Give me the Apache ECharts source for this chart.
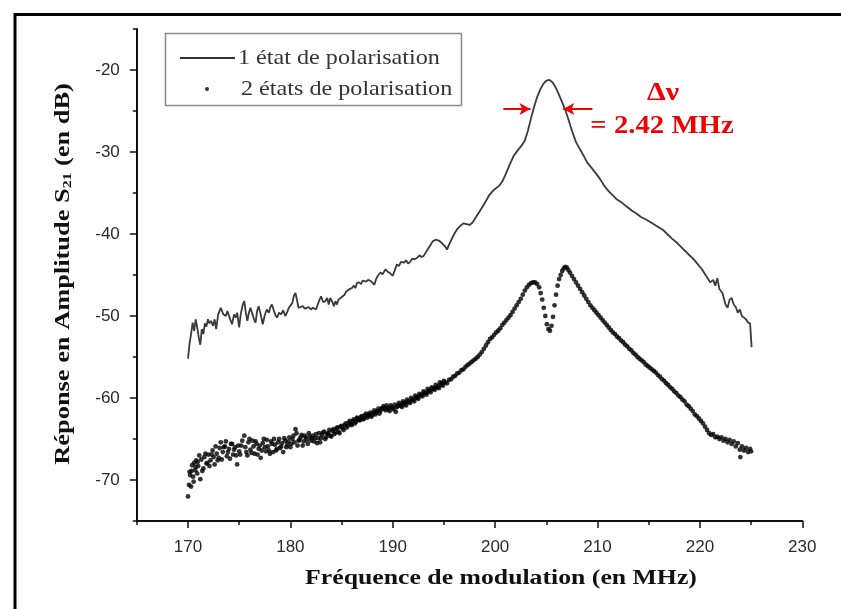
<!DOCTYPE html>
<html>
<head>
<meta charset="utf-8">
<script src="https://cdn.jsdelivr.net/npm/echarts@6/dist/echarts.min.js"></script>
<style>
html,body{margin:0;padding:0;background:#fff;}
#chart{width:841px;height:609px;}
</style>
</head>
<body>
<div id="chart"></div>
<script>
// ---- Data ----
const seriesNames = ['1 état de polarisation', '2 états de polarisation'];

// Series 1 (solid line): frequency (MHz) and S21 (dB)
const freq1 = [170.0,170.15,170.3,170.45,170.6,170.75,170.9,171.05,171.2,171.35,171.5,171.65,171.8,171.95,172.1,172.25,172.45,172.6,172.75,172.95,
173.2,173.45,173.7,173.85,174.0,174.15,174.3,174.5,174.65,174.8,175.0,175.15,175.35,175.5,175.65,175.8,175.95,176.1,176.3,176.45,
176.6,176.75,176.9,177.1,177.3,177.5,177.7,177.9,178.05,178.2,178.4,178.55,178.7,178.9,179.1,179.3,179.5,179.7,179.85,180.0,
180.2,180.35,180.5,180.65,180.8,181.0,181.2,181.4,181.6,181.8,182.0,182.2,182.5,182.7,182.85,183.0,183.2,183.4,183.6,183.75,
183.9,184.1,184.25,184.4,184.55,184.7,184.9,185.1,185.3,185.45,185.6,185.8,186.0,186.2,186.35,186.5,186.7,186.9,187.05,187.2,
187.4,187.6,187.8,188.0,188.2,188.4,188.6,188.8,189.0,189.3,189.5,189.75,190.0,190.2,190.4,190.6,190.8,191.1,191.3,191.5,
191.7,191.9,192.1,192.4,192.6,192.8,193.0,193.2,193.5,193.7,193.9,194.2,194.5,194.8,195.1,195.3,195.5,195.8,196.0,196.3,
196.6,196.9,197.2,197.5,197.8,198.1,198.4,198.6,199.0,199.4,199.9,200.4,200.7,201.0,201.4,201.8,202.2,202.6,202.9,203.2,
203.5,203.8,204.1,204.4,204.7,205.0,205.3,205.6,205.9,206.2,206.5,206.8,207.1,207.5,207.9,208.3,208.7,209.0,209.4,209.9,
210.3,210.7,211.1,211.5,211.9,212.4,212.9,213.4,213.8,214.2,214.7,215.1,215.5,216.0,216.4,216.8,217.3,217.7,218.1,218.5,
218.9,219.4,219.8,220.2,220.5,220.8,221.0,221.3,221.5,221.7,221.9,222.2,222.5,222.7,222.9,223.1,223.3,223.5,223.7,223.9,
224.1,224.3,224.5,224.7,224.9,225.05];
const amp1 = [-55.2,-53.4,-52.2,-50.8,-51.8,-50.4,-51.4,-52.6,-53.5,-51.6,-52.2,-50.9,-51.3,-50.4,-50.9,-50.6,-51.2,-50.4,-51.6,-49.8,
-49.0,-49.8,-50.0,-49.4,-49.6,-50.5,-51.0,-49.8,-50.2,-49.6,-51.4,-49.8,-48.6,-48.2,-49.6,-50.6,-49.6,-49.0,-49.8,-50.4,
-50.8,-49.4,-48.8,-49.8,-51.0,-49.9,-49.2,-49.6,-48.9,-48.6,-49.4,-49.9,-50.2,-49.6,-49.8,-49.3,-50.0,-49.5,-49.0,-49.2,
-48.4,-47.5,-47.2,-48.1,-49.0,-48.9,-48.8,-49.1,-49.0,-48.9,-49.2,-49.0,-49.2,-48.5,-48.0,-47.6,-48.3,-48.2,-47.8,-48.6,
-47.8,-48.3,-48.8,-48.2,-48.6,-48.0,-47.8,-47.6,-47.4,-47.0,-47.2,-46.7,-46.6,-46.3,-46.6,-46.0,-45.9,-46.1,-45.7,-45.5,
-45.8,-45.6,-45.7,-45.9,-46.2,-45.4,-45.0,-44.7,-44.9,-44.3,-44.6,-44.8,-45.1,-44.4,-43.7,-43.9,-43.4,-43.5,-43.2,-43.6,
-43.4,-43.0,-43.1,-42.9,-42.6,-42.8,-42.7,-42.3,-41.7,-41.3,-40.9,-40.7,-40.8,-41.1,-41.5,-41.9,-41.3,-40.5,-40.0,-39.4,
-39.0,-38.7,-38.8,-38.9,-38.6,-38.0,-37.4,-37.0,-36.2,-35.3,-34.6,-34.1,-33.6,-32.8,-31.6,-30.5,-29.8,-29.2,-28.6,-27.4,
-25.9,-24.5,-23.3,-22.4,-21.7,-21.3,-21.2,-21.5,-22.1,-22.9,-23.8,-24.7,-25.8,-27.4,-28.8,-29.7,-30.6,-31.3,-31.9,-32.7,
-33.4,-34.2,-34.8,-35.3,-35.8,-36.2,-36.7,-37.2,-37.5,-37.9,-38.2,-38.5,-38.8,-39.2,-39.5,-40.0,-40.6,-41.0,-41.5,-42.0,
-42.5,-43.1,-43.7,-44.3,-44.9,-45.5,-45.9,-45.6,-46.3,-45.4,-46.7,-47.2,-48.6,-49.0,-48.0,-47.8,-48.6,-48.9,-49.6,-49.2,
-50.0,-50.2,-50.4,-50.8,-50.9,-53.8];

// Series 2 (dots): frequency (MHz) and S21 (dB)
const freq2 = [170.0,170.1,170.2,170.3,170.4,170.5,170.6,170.7,170.8,170.9,171.0,171.2,171.3,171.5,171.6,171.8,172.0,172.2,172.4,172.6,
172.8,173.0,173.2,173.4,173.6,173.8,174.0,174.2,174.4,174.6,174.8,175.0,175.2,175.5,175.7,175.9,176.1,176.3,176.5,176.7,
176.9,177.1,177.3,177.5,177.7,177.9,178.1,178.3,178.5,178.7,178.9,179.1,179.3,179.5,179.7,179.9,180.1,180.3,180.5,180.7,
180.9,181.1,181.3,181.5,181.7,181.9,182.1,182.3,182.5,182.7,182.9,183.1,183.3,183.5,183.7,183.9,184.1,184.3,184.5,184.7,
184.9,185.1,185.3,185.5,185.7,185.9,186.1,186.3,186.5,186.7,186.9,187.1,187.3,187.5,187.7,187.9,188.1,188.3,188.5,188.7,
188.9,189.1,189.3,189.5,189.7,189.9,190.1,190.3,190.5,190.7,190.9,191.1,191.3,191.5,191.7,191.9,192.1,192.3,192.5,192.7,
192.9,193.1,193.3,193.5,193.7,193.9,194.1,194.3,194.5,194.7,194.9,195.1,195.3,195.5,195.7,195.9,196.1,196.3,196.5,196.7,
196.9,197.1,197.3,197.5,197.7,197.9,198.1,198.3,198.5,198.7,198.9,199.1,199.3,199.5,199.7,199.9,200.1,200.3,200.5,200.7,
200.9,201.1,201.3,201.5,201.7,201.9,202.1,202.3,202.5,202.7,202.9,203.1,203.3,203.5,203.7,203.9,204.1,204.3,204.45,204.6,
204.75,204.9,205.05,205.2,205.35,205.5,205.65,205.8,205.95,206.1,206.25,206.4,206.55,206.7,206.85,207.0,207.15,207.3,207.5,207.7,
207.9,208.1,208.3,208.5,208.7,208.9,209.1,209.3,209.5,209.7,209.9,210.1,210.3,210.5,210.7,210.9,211.1,211.3,211.5,211.7,
211.9,212.1,212.3,212.5,212.7,212.9,213.1,213.3,213.5,213.7,213.9,214.1,214.3,214.5,214.7,214.9,215.1,215.3,215.5,215.7,
215.9,216.1,216.3,216.5,216.7,216.9,217.1,217.3,217.5,217.7,217.9,218.1,218.3,218.5,218.7,218.9,219.1,219.3,219.5,219.7,
219.9,220.1,220.3,220.5,220.7,220.9,221.1,221.3,221.5,221.7,221.9,222.1,222.3,222.5,222.7,222.9,223.1,223.3,223.5,223.7,
223.9,223.95,224.1,224.3,224.5,224.7,224.9,225.0];
const amp2 = [-72.0,-70.6,-69.4,-70.8,-68.2,-69.6,-67.9,-68.8,-67.6,-69.2,-68.3,-69.9,-67.5,-68.6,-67.2,-68.0,-66.9,-67.6,-66.4,-68.1,
-66.8,-67.3,-65.4,-66.6,-65.9,-67.1,-66.2,-65.6,-66.9,-66.0,-68.1,-66.5,-65.8,-64.6,-66.6,-65.4,-66.3,-65.2,-66.8,-65.6,
-66.2,-67.3,-65.5,-66.0,-65.1,-66.4,-65.3,-66.6,-65.7,-66.2,-65.0,-65.9,-66.6,-65.2,-65.7,-64.8,-65.6,-64.6,-63.8,-65.8,
-65.1,-64.5,-65.3,-64.8,-65.6,-64.7,-64.9,-65.3,-64.4,-64.9,-65.4,-64.5,-64.1,-64.8,-64.3,-64.6,-64.0,-64.4,-63.7,-64.1,
-63.5,-63.7,-63.3,-63.6,-63.0,-63.2,-62.8,-63.1,-62.4,-62.7,-62.3,-62.6,-62.1,-62.4,-62.0,-62.3,-61.8,-62.0,-61.6,-61.9,
-61.3,-61.0,-61.5,-61.2,-61.6,-61.1,-61.4,-61.7,-61.0,-60.8,-61.1,-60.6,-60.9,-60.4,-60.6,-60.2,-60.4,-59.9,-60.1,-59.7,
-59.8,-59.4,-59.6,-59.2,-59.3,-58.9,-59.0,-58.7,-58.8,-58.4,-58.5,-58.1,-58.2,-57.8,-57.7,-57.4,-57.3,-57.0,-56.9,-56.6,
-56.5,-56.2,-56.0,-55.8,-55.6,-55.4,-55.2,-55.0,-54.7,-54.4,-54.0,-53.6,-53.2,-52.8,-52.6,-52.3,-52.0,-51.8,-51.5,-51.1,
-50.8,-50.5,-50.2,-49.9,-49.5,-49.1,-48.7,-48.3,-47.9,-47.4,-46.9,-46.5,-46.2,-46.0,-45.9,-45.9,-46.1,-46.5,-47.2,-48.0,
-49.0,-50.0,-51.0,-51.6,-51.8,-51.2,-50.1,-48.7,-47.4,-46.3,-45.5,-45.0,-44.5,-44.2,-44.0,-44.1,-44.4,-44.7,-45.1,-45.5,
-45.9,-46.3,-46.7,-47.1,-47.5,-47.9,-48.3,-48.7,-49.0,-49.3,-49.6,-49.9,-50.2,-50.5,-50.8,-51.1,-51.4,-51.7,-52.0,-52.2,
-52.5,-52.7,-53.0,-53.2,-53.5,-53.7,-54.0,-54.2,-54.5,-54.7,-55.0,-55.2,-55.4,-55.6,-55.9,-56.1,-56.3,-56.5,-56.7,-56.9,
-57.2,-57.4,-57.7,-57.9,-58.2,-58.4,-58.7,-58.9,-59.2,-59.4,-59.7,-59.9,-60.2,-60.4,-60.8,-61.0,-61.3,-61.6,-62.0,-62.2,
-62.5,-62.8,-63.1,-63.5,-63.9,-64.3,-64.5,-64.4,-64.8,-64.7,-65.0,-64.8,-65.2,-65.0,-65.4,-65.1,-65.6,-65.3,-65.9,-65.5,
-66.3,-67.2,-65.9,-66.4,-66.1,-66.6,-66.2,-66.5];
// Series 2, further dots in the noisy low-frequency part (170-195 MHz)
const freq2More = [170.15,170.35,170.55,170.75,170.95,171.1,171.4,171.7,171.9,172.1,172.3,172.5,172.7,172.9,173.1,173.3,173.5,173.7,173.9,174.1,
174.3,174.5,174.7,174.9,175.1,175.3,175.6,175.8,176.0,176.2,176.4,176.6,176.8,177.0,177.2,177.4,177.6,177.8,178.0,178.2,
178.4,178.6,178.8,179.0,179.2,179.4,179.6,179.8,180.0,180.2,180.4,180.6,180.8,181.0,181.2,181.4,181.6,181.8,182.0,182.2,
182.4,182.6,182.8,183.0,183.2,183.4,183.6,183.8,184.0,184.2,184.4,184.6,184.8,185.0,185.2,185.4,185.6,185.8,186.0,186.2,
186.4,186.6,186.8,187.0,187.2,187.4,187.6,187.8,188.0,188.2,188.4,188.6,188.8,189.0,189.2,189.4,189.6,189.8,190.0,190.2,
190.4,190.6,190.8,191.0,191.2,191.4,191.6,191.8,192.0,192.2,192.4,192.6,192.8,193.0,193.2,193.4,193.6,193.8,194.0,194.2,
194.4,194.6,194.8,195.0];
const amp2More = [-69.0,-68.9,-70.2,-68.4,-67.8,-67.0,-68.9,-66.8,-67.9,-68.3,-66.9,-67.2,-65.9,-67.6,-66.1,-67.5,-66.0,-65.3,-66.6,-67.4,
-65.6,-66.3,-67.0,-65.8,-66.9,-65.2,-66.0,-67.0,-65.0,-66.7,-65.9,-65.3,-66.9,-65.8,-66.4,-65.0,-66.5,-65.9,-66.8,-65.6,
-65.0,-66.4,-65.4,-66.1,-65.5,-64.9,-66.0,-65.3,-66.0,-65.0,-65.4,-64.3,-65.2,-64.8,-65.8,-64.6,-65.1,-64.3,-65.2,-64.6,
-64.9,-65.5,-64.3,-64.9,-64.2,-65.0,-64.4,-63.9,-64.7,-63.8,-64.2,-63.6,-64.3,-63.4,-63.9,-63.1,-63.4,-62.8,-63.3,-62.6,
-62.9,-62.5,-62.7,-62.2,-62.5,-61.9,-62.2,-61.8,-62.1,-61.5,-61.8,-61.3,-61.6,-61.2,-61.3,-60.9,-61.4,-60.9,-61.2,-60.8,
-61.1,-60.6,-60.9,-60.4,-60.7,-60.2,-60.5,-60.0,-60.2,-59.7,-60.0,-59.5,-59.6,-59.2,-59.4,-58.9,-59.1,-58.7,-58.8,-58.4,
-58.6,-58.1,-58.2,-57.9];

// Axis ticks
const xMajorTicks = [170, 180, 190, 200, 210, 220, 230];
const yMajorTicks = [-70, -60, -50, -40, -30, -20];

// Linewidth annotation (Δν) arrows: [from, to] in data coords
const fwhmLevel = -24.75;
const arrowLeft = [200.8, 203.45];
const arrowRight = [209.5, 206.65];
const annotationLines = ['Δν', '= 2.42 MHz'];

// ---- Build ----
const line1 = freq1.map((f, i) => [f, amp1[i]]);
const dots2 = freq2.map((f, i) => [f, amp2[i]]).concat(freq2More.map((f, i) => [f, amp2More[i]]));

const serif = '"Liberation Serif", "Times New Roman", serif';
const sans = '"Liberation Sans", Arial, sans-serif';
const axisColor = '#111';
const labelColor = '#2a2a2a';

const chart = echarts.init(document.getElementById('chart'), null, {renderer: 'canvas'});

const option = {
  animation: false,
  backgroundColor: '#ffffff',
  grid: {left: 136.8, right: 38.7, top: 29, bottom: 88, outerBoundsMode: 'none'},
  xAxis: [
    {
      type: 'value', min: 165, max: 230, interval: 5, position: 'bottom',
      axisLine: {show: true, lineStyle: {color: axisColor, width: 2}},
      axisTick: {show: true, length: 4, lineStyle: {color: axisColor, width: 1.5}},
      axisLabel: {show: false},
      splitLine: {show: false}
    },
    {
      type: 'value', min: 165, max: 230, position: 'bottom',
      axisLine: {show: false},
      axisTick: {show: true, customValues: xMajorTicks, length: 7, lineStyle: {color: axisColor, width: 1.5}},
      axisLabel: {show: true, customValues: xMajorTicks, margin: 18, fontFamily: sans, fontSize: 17, color: labelColor},
      splitLine: {show: false}
    }
  ],
  yAxis: [
    {
      type: 'value', min: -75, max: -15, interval: 5, position: 'left',
      axisLine: {show: true, lineStyle: {color: axisColor, width: 2}},
      axisTick: {show: true, length: 4, lineStyle: {color: axisColor, width: 1.5}},
      axisLabel: {show: false},
      splitLine: {show: false}
    },
    {
      type: 'value', min: -75, max: -15, position: 'left',
      axisLine: {show: false},
      axisTick: {show: true, customValues: yMajorTicks, length: 7, lineStyle: {color: axisColor, width: 1.5}},
      axisLabel: {show: true, customValues: yMajorTicks, margin: 17, fontFamily: sans, fontSize: 17, color: labelColor},
      splitLine: {show: false}
    }
  ],
  series: [
    {
      name: seriesNames[0], type: 'line', xAxisIndex: 0, yAxisIndex: 0,
      data: line1, symbol: 'none', smooth: false,
      lineStyle: {color: '#3a3a3a', width: 1.8},
      markLine: {
        silent: true, symbol: ['none', 'arrow'], symbolSize: [9, 11],
        label: {show: false},
        lineStyle: {color: '#f00000', width: 2, type: 'solid'},
        data: [
          [{coord: [arrowLeft[0], fwhmLevel]}, {coord: [arrowLeft[1], fwhmLevel]}],
          [{coord: [arrowRight[0], fwhmLevel]}, {coord: [arrowRight[1], fwhmLevel]}]
        ]
      },
      z: 3
    },
    {
      name: seriesNames[1], type: 'scatter', xAxisIndex: 0, yAxisIndex: 0,
      data: dots2, symbol: 'circle', symbolSize: 4.8,
      itemStyle: {color: '#000'},
      z: 2
    }
  ],
  graphic: [
    // outer frame
    {type: 'rect', shape: {x: 15, y: 14.5, width: 900, height: 700}, style: {fill: 'none', stroke: '#000', lineWidth: 3}, z: 100},
    // legend box
    {type: 'rect', shape: {x: 165.5, y: 33.5, width: 296, height: 72}, style: {fill: '#fff', stroke: '#8a8a8a', lineWidth: 1.5}, z: 50},
    {type: 'line', shape: {x1: 180, y1: 58, x2: 235, y2: 58}, style: {stroke: '#333', lineWidth: 2}, z: 51},
    {type: 'text', x: 238, y: 58, scaleX: 1.15, style: {x: 0, y: 0, text: seriesNames[0], font: '21px ' + serif, fill: '#333', align: 'left', verticalAlign: 'middle'}, z: 51},
    {type: 'circle', shape: {cx: 207, cy: 89, r: 2}, style: {fill: '#333'}, z: 51},
    {type: 'text', x: 241, y: 89, scaleX: 1.15, style: {x: 0, y: 0, text: seriesNames[1], font: '21px ' + serif, fill: '#333', align: 'left', verticalAlign: 'middle'}, z: 51},
    // annotation
    {type: 'text', x: 663, y: 93, scaleX: 1.15, style: {x: 0, y: 0, text: annotationLines[0], font: 'bold 26px ' + serif, fill: '#f00000', align: 'center', verticalAlign: 'middle'}, z: 51},
    {type: 'text', x: 662, y: 127, scaleX: 1.15, style: {x: 0, y: 0, text: annotationLines[1], font: 'bold 25px ' + serif, fill: '#f00000', align: 'center', verticalAlign: 'middle'}, z: 51},
    // axis titles
    {type: 'text', x: 501, y: 578, scaleX: 1.17, style: {x: 0, y: 0, text: 'Fréquence de modulation (en MHz)', font: 'bold 22px ' + serif, fill: '#111', align: 'center', verticalAlign: 'middle'}, z: 51},
    {type: 'text', x: 63, y: 274, rotation: Math.PI / 2, scaleX: 1.2, style: {
      x: 0, y: 0, text: 'Réponse en Amplitude S{sub|21} (en dB)',
      font: 'bold 22px ' + serif, fill: '#111', align: 'center', verticalAlign: 'middle',
      rich: {sub: {fontFamily: serif, fontWeight: 'bold', fontSize: 13, fill: '#111', verticalAlign: 'bottom', lineHeight: 14, padding: [0, 0, 0, 0]}}
    }, z: 51}
  ]
};
chart.setOption(option);
</script>
</body>
</html>
